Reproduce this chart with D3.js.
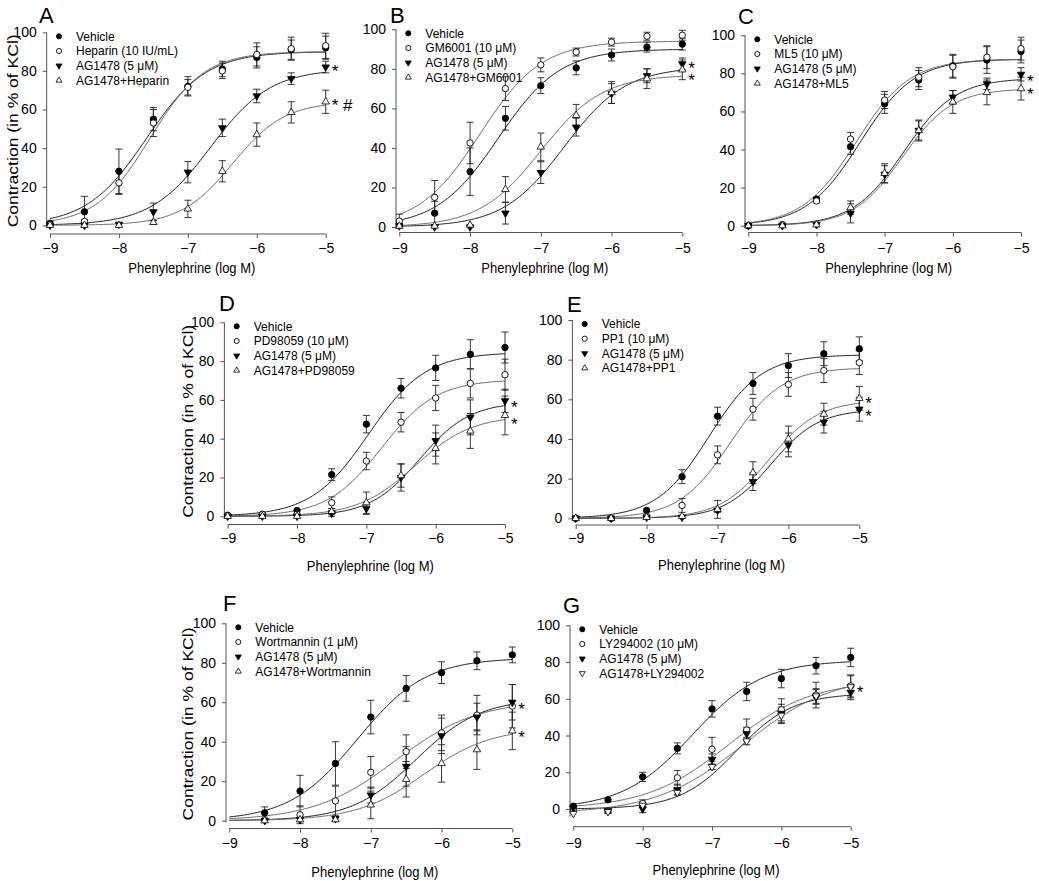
<!DOCTYPE html>
<html><head><meta charset="utf-8">
<script src="https://cdn.jsdelivr.net/npm/d3@7"></script>
<style>
body{margin:0;background:#fff}
svg{display:block}
text{font-family:"Liberation Sans",Arial,Helvetica,sans-serif;fill:#000}
</style>
</head><body>
<svg id="chart" width="1039" height="881"></svg>
<script>
// ---------- shared data ----------
const doses = [-9, -8.5, -8, -7.5, -7, -6.5, -6, -5.5, -5];
const xTicks = [-9, -8, -7, -6, -5];
const yTicks = [0, 20, 40, 60, 80, 100];
const xTitle = "Phenylephrine (log M)";
const yTitle = "Contraction (in % of KCl)";

// fit params: [top, logEC50, hill, bottom]
// ---------- Panel A ----------
const A_labels = ["Vehicle", "Heparin (10 IU/mL)", "AG1478 (5 μM)", "AG1478+Heparin"];
const A_symbols = ["filledCircle", "openCircle", "filledDown", "openUp"];
const A_means = [
  [1, 7, 28, 55, 72, 81, 87, 91, 92],
  [0.5, 2, 22, 53, 71.5, 80, 88.5, 91.5, 93],
  [0, 0, 0.5, 7, 27.5, 50.5, 67, 76, 82],
  [0, 0, 0, 1.5, 8.5, 28, 47, 58.5, 64]
];
const A_sems = [
  [1, 8, 11.5, 6, 5, 4, 5.5, 5, 6],
  [0.5, 1, 6, 7, 4, 4, 6, 6, 6.5],
  [0, 0, 0.5, 4.5, 5.5, 4.5, 3.5, 3, 3],
  [0, 0, 0, 1, 4.5, 5.5, 6, 5.5, 6]
];
const A_fits = [[90, -7.6, 1.0, 0], [90, -7.55, 1.1, 0], [81, -6.67, 1.0, 0], [64, -6.35, 1.15, 0]];
const A_stars = [[82, "*"], [64, "* #"]];

// ---------- Panel B ----------
const B_labels = ["Vehicle", "GM6001 (10 μM)", "AG1478 (5 μM)", "AG1478+GM6001"];
const B_symbols = ["filledCircle", "openCircle", "filledDown", "openUp"];
const B_means = [
  [1, 7, 28, 55, 71.5, 80.5, 87, 91, 92.5],
  [3, 15, 42.5, 70, 82, 88.5, 93.5, 96.5, 97],
  [0.5, 0, 0, 7, 27.5, 50.5, 67.5, 76.5, 82.5],
  [0.5, 0.5, 1, 19, 40.5, 56.5, 68, 75, 79.5]
];
const B_sems = [
  [1, 6, 12, 6, 4, 3.5, 3, 2.5, 3],
  [3.5, 8.5, 10.5, 6, 3.5, 2, 2, 2, 2.5],
  [0.5, 0, 0, 5.5, 5.5, 4.5, 5, 3.5, 3],
  [0.5, 0.5, 0.5, 6.5, 7, 5.5, 5.5, 5, 5]
];
const B_fits = [[90, -7.6, 1.0, 0], [94, -7.86, 1.0, 0], [81, -6.67, 1.0, 0], [77, -7.0, 1.0, 0]];
const B_stars = [[82, "*"], [76, "*"]];

// ---------- Panel C ----------
const C_labels = ["Vehicle", "ML5 (10 μM)", "AG1478 (5 μM)", "AG1478+ML5"];
const C_symbols = ["filledCircle", "openCircle", "filledDown", "openUp"];
const C_means = [
  [0, 0.5, 14, 41.5, 64, 76.5, 84, 87, 91.5],
  [0, 0.5, 13, 45.5, 66, 78, 83.5, 88.5, 93],
  [0, 0, 0.5, 6.5, 27, 50, 67.5, 74.5, 79.5],
  [0, 0, 0.5, 9.5, 27.5, 50, 65, 70, 72]
];
const C_sems = [
  [0.3, 0.5, 1, 4, 5, 5, 6, 7, 6],
  [0.3, 0.5, 1, 3.5, 4.5, 5, 6, 6, 6],
  [0, 0, 0.5, 5, 4.5, 5, 3.5, 3, 3.5],
  [0, 0, 0.5, 3.5, 5, 5.5, 6, 6.5, 6]
];
const C_fits = [[87.5, -7.36, 1.1, 0], [87.5, -7.42, 1.1, 0], [77.5, -6.72, 1.15, 0], [72, -6.74, 1.2, 0]];
const C_stars = [[78, "*"], [71, "*"]];

// ---------- Panel D ----------
const D_labels = ["Vehicle", "PD98059 (10 μM)", "AG1478 (5 μM)", "AG1478+PD98059"];
const D_symbols = ["filledCircle", "openCircle", "filledDown", "openUp"];
const D_means = [
  [0.5, 1, 3, 21.5, 47.5, 66, 76.5, 83.5, 87],
  [0.5, 1, 1, 7, 28.5, 48.5, 61, 68.5, 73],
  [0, 0, 0, 1.5, 4, 20, 39, 51, 59.5],
  [0, 0, 0, 2.5, 7, 21, 35, 44, 52]
];
const D_sems = [
  [0.3, 0.3, 0.5, 3, 4.5, 5, 6.5, 7.5, 8],
  [0.3, 0.3, 0.5, 3, 4.5, 5, 6.5, 7.5, 8],
  [0, 0, 0, 1.5, 3, 7, 8, 9, 6],
  [0, 0, 0, 1.5, 5.5, 6, 8, 9, 10]
];
const D_fits = [[84.5, -6.97, 1.05, 0], [70.5, -6.78, 1.1, 0], [59, -6.23, 1.2, 0], [52, -6.3, 1.05, 0]];
const D_stars = [[58, "*"], [49.5, "*"]];

// ---------- Panel E ----------
const E_labels = ["Vehicle", "PP1 (10 μM)", "AG1478 (5 μM)", "AG1478+PP1"];
const E_symbols = ["filledCircle", "openCircle", "filledDown", "openUp"];
const E_means = [
  [0, 0, 4, 21, 51.5, 68, 77, 83, 85.5],
  [0, 0, 1, 6.5, 32, 55, 67.5, 74.5, 78.5],
  [0, 0, 0.5, 0.5, 4, 18.5, 37, 48.5, 55],
  [0, 0, 0.5, 1, 4.5, 23, 40, 52.5, 60.5]
];
const E_sems = [
  [0.3, 0.3, 0.5, 3.5, 4.5, 5.5, 6, 6, 6],
  [0.3, 0.3, 0.5, 3.5, 4.5, 5.5, 6, 6, 6],
  [0, 0, 0.3, 0.5, 1, 4.5, 6, 5.5, 6],
  [0, 0, 0.3, 0.5, 4.5, 5.5, 6.5, 5.5, 6]
];
const E_fits = [[82.5, -7.12, 1.17, 0], [76, -6.82, 1.2, 0], [55, -6.24, 1.3, 0], [59.5, -6.27, 1.25, 0]];
const E_stars = [[60, "*"], [53.5, "*"]];

// ---------- Panel F ----------
const F_labels = ["Vehicle", "Wortmannin (1 μM)", "AG1478 (5 μM)", "AG1478+Wortmannin"];
const F_symbols = ["filledCircle", "openCircle", "filledDown", "openUp"];
const F_means = [
  [null, 4, 15, 29, 52.5, 67, 75, 81, 84],
  [null, 0.5, 3, 10, 24.5, 35, 44.5, 53.5, 58],
  [null, 0, 0.5, 1, 13, 27.5, 43, 52.5, 60],
  [null, 0, 0.5, 0.5, 8, 21, 29, 36, 45.5]
];
const F_sems = [
  [null, 3, 8, 11, 8.5, 6.5, 5.5, 4.5, 4],
  [null, 0.5, 4.5, 7.5, 8, 8.5, 9, 10, 11],
  [null, 0, 0.5, 1, 4, 10, 9, 7, 9],
  [null, 0, 0.5, 0.5, 7, 9, 9.5, 10, 9.5]
];
const F_fits = [[82.5, -7.19, 0.9, 0], [61, -6.65, 0.75, 0], [62, -6.36, 0.95, 0], [47, -6.25, 0.91, 0]];
const F_stars = [[58.5, "*"], [44, "*"]];

// ---------- Panel G ----------
const G_labels = ["Vehicle", "LY294002 (10 μM)", "AG1478 (5 μM)", "AG1478+LY294002"];
const G_symbols = ["filledCircle", "openCircle", "filledDown", "openDown"];
const G_means = [
  [1.5, 5, 17.5, 33, 54.5, 64, 71, 78, 82.5],
  [0, -1, 3, 17, 32.5, 43, 54, 62, 67],
  [0.5, -1, 0, 10.5, 27, 41, 52, 61, 63.5],
  [-2.5, -1.5, 2, 9, 23, 37, 51, 61.5, 66.5]
];
const G_sems = [
  [0.5, 0.5, 2.5, 3, 4.5, 5, 5, 4.5, 5],
  [0.5, 1, 2, 4, 6.5, 6, 6, 7, 6],
  [0.5, 1, 2, 3, 3, 3.5, 5, 4, 4],
  [0.5, 1, 1, 1, 1.5, 2, 4.5, 4, 6]
];
const G_fits = [[81, -7.28, 0.86, 0], [70, -6.76, 0.73, 0], [63, -6.65, 1.07, 0], [73, -6.54, 0.68, -2.5]];
const G_stars = [[65.5, "*"]];

// ---------- layout (pixel geometry of each panel) ----------
const panels = [
  {id:"A", labels:A_labels, symbols:A_symbols, means:A_means, sems:A_sems, fits:A_fits, stars:A_stars,
   x0:50, x1:325.7, y100:32.3, y0:225.3, axisY:234, tickBase:253, yMin:-1,
   letterX:39, letterY:23, yTitleX:13, titleY:273},
  {id:"B", labels:B_labels, symbols:B_symbols, means:B_means, sems:B_sems, fits:B_fits, stars:B_stars,
   x0:399.3, x1:682.3, y100:29.3, y0:227, axisY:232.5, tickBase:253, yMin:-1,
   letterX:390, letterY:23, yTitleX:null, titleY:273},
  {id:"C", labels:C_labels, symbols:C_symbols, means:C_means, sems:C_sems, fits:C_fits, stars:C_stars,
   x0:748.3, x1:1021, y100:35.3, y0:225.7, axisY:232.5, tickBase:253, yMin:-1,
   letterX:738, letterY:24, yTitleX:null, titleY:273},
  {id:"D", labels:D_labels, symbols:D_symbols, means:D_means, sems:D_sems, fits:D_fits, stars:D_stars,
   x0:227.7, x1:505, y100:322.3, y0:516.3, axisY:524.5, tickBase:543, yMin:-1,
   letterX:219, letterY:311, yTitleX:188.3, titleY:571},
  {id:"E", labels:E_labels, symbols:E_symbols, means:E_means, sems:E_sems, fits:E_fits, stars:E_stars,
   x0:575.7, x1:859.3, y100:320, y0:518.3, axisY:525, tickBase:543, yMin:-1,
   letterX:567, letterY:312, yTitleX:null, titleY:570},
  {id:"F", labels:F_labels, symbols:F_symbols, means:F_means, sems:F_sems, fits:F_fits, stars:F_stars,
   x0:229.3, x1:512.3, y100:623.3, y0:820.7, axisY:828.5, tickBase:848, yMin:-1,
   letterX:223, letterY:611, yTitleX:188.3, titleY:877},
  {id:"G", labels:G_labels, symbols:G_symbols, means:G_means, sems:G_sems, fits:G_fits, stars:G_stars,
   x0:573.3, x1:850.7, y100:625.3, y0:809, axisY:826.7, tickBase:848, yMin:-4,
   letterX:563, letterY:613, yTitleX:null, titleY:875}
];

const svg = d3.select("#chart");
const INK = "#000";
const AXIS = "#555";
const TICK_FS = 14;

function logistic(f, x) {
  const [top, ec, h, bottom] = f;
  return bottom + (top - bottom) / (1 + Math.pow(10, h * (ec - x)));
}

function drawSymbol(g, type, cx, cy, scale) {
  const s = scale || 1;
  if (type === "filledCircle" || type === "openCircle") {
    g.append("circle").attr("cx", cx).attr("cy", cy).attr("r", 3.2 * s)
      .attr("fill", type === "filledCircle" ? INK : "#fff")
      .attr("stroke", INK).attr("stroke-width", 0.9);
  } else {
    const down = type === "filledDown" || type === "openDown";
    const filled = type === "filledDown";
    g.append("path")
      .attr("d", d3.symbol().type(d3.symbolTriangle).size(24 * s * s)())
      .attr("transform", `translate(${cx},${cy}) rotate(${down ? 180 : 0})`)
      .attr("fill", filled ? INK : "#fff")
      .attr("stroke", INK).attr("stroke-width", 0.8);
  }
}

panels.forEach(p => {
  const g = svg.append("g").attr("class", "panel-" + p.id);
  const x = d3.scaleLinear().domain([-9, -5]).range([p.x0, p.x1]);
  const y = d3.scaleLinear().domain([0, 100]).range([p.y0, p.y100]);
  const yAxisX = p.x0 - 3.3;

  // panel letter
  g.append("text").attr("x", p.letterX).attr("y", p.letterY)
    .attr("font-size", 22).text(p.id);

  // y axis (offset slightly left of x = -9)
  const yAxis = d3.axisLeft(y).tickValues(yTicks).tickSize(4).tickPadding(6).tickFormat(d3.format("d"));
  const ya = g.append("g").attr("transform", `translate(${yAxisX},0)`).call(yAxis);
  ya.select(".domain").remove();
  ya.append("line").attr("x1", 0).attr("x2", 0).attr("y1", y(100)).attr("y2", y(p.yMin))
    .attr("stroke", AXIS).attr("stroke-width", 1);
  ya.selectAll(".tick line").attr("stroke", AXIS);
  ya.selectAll(".tick text").attr("font-size", TICK_FS).attr("fill", INK)
    .style("font-family", '"Liberation Sans",Arial,sans-serif');

  // x axis (offset below zero)
  const pad = p.tickBase - p.axisY - 4 - 0.71 * TICK_FS;
  const xAxis = d3.axisBottom(x).tickValues(xTicks).tickSize(4).tickPadding(pad).tickFormat(d3.format("d"));
  const xa = g.append("g").attr("transform", `translate(0,${p.axisY})`).call(xAxis);
  xa.select(".domain").remove();
  xa.append("line").attr("x1", p.x0).attr("x2", p.x1).attr("y1", 0).attr("y2", 0)
    .attr("stroke", AXIS).attr("stroke-width", 1);
  xa.selectAll(".tick line").attr("stroke", AXIS);
  xa.selectAll(".tick text").attr("font-size", TICK_FS).attr("fill", INK)
    .style("font-family", '"Liberation Sans",Arial,sans-serif');

  // axis titles
  g.append("text").attr("x", (p.x0 + p.x1) / 2 + 4).attr("y", p.titleY)
    .attr("text-anchor", "middle").attr("font-size", 15)
    .attr("textLength", 127).attr("lengthAdjust", "spacingAndGlyphs")
    .text(xTitle);
  if (p.yTitleX !== null) {
    const cy = (p.y100 + p.y0) / 2 + 2;
    g.append("text")
      .attr("transform", `translate(${p.yTitleX + 5},${cy}) rotate(-90)`)
      .attr("text-anchor", "middle").attr("font-size", 15)
      .attr("textLength", 193).attr("lengthAdjust", "spacingAndGlyphs")
      .text(yTitle);
  }

  // fitted curves (filled-symbol series dark, open-symbol series grey)
  const xs = d3.range(0, 201).map(i => -9 + i * 4 / 200);
  p.fits.forEach((f, si) => {
    const pts = xs.map(d => ({d, v: logistic(f, d)}));
    const open = p.symbols[si].startsWith("open");
    g.append("path")
      .attr("d", d3.line().x(q => x(q.d)).y(q => y(q.v))(pts))
      .attr("fill", "none").attr("stroke", open ? "#6a6a6a" : "#1a1a1a").attr("stroke-width", 1);
  });

  // error bars
  p.means.forEach((ms, si) => {
    ms.forEach((m, i) => {
      const e = p.sems[si][i];
      if (m === null || e === null || e < 0.8) return;
      const cx = x(doses[i]);
      g.append("line").attr("x1", cx).attr("x2", cx).attr("y1", y(m - e)).attr("y2", y(m + e))
        .attr("stroke", "#222").attr("stroke-width", 0.9);
      [m - e, m + e].forEach(v => {
        g.append("line").attr("x1", cx - 3.5).attr("x2", cx + 3.5).attr("y1", y(v)).attr("y2", y(v))
          .attr("stroke", "#222").attr("stroke-width", 0.9);
      });
    });
  });

  // markers
  p.means.forEach((ms, si) => {
    ms.forEach((m, i) => {
      if (m === null) return;
      drawSymbol(g, p.symbols[si], x(doses[i]), y(m), 1);
    });
  });

  // significance marks: one text element per panel, one tspan per mark
  const st = g.append("text").attr("font-size", 17);
  p.stars.forEach(s => {
    st.append("tspan").attr("x", p.x1 + 6).attr("y", y(s[0]) + 9.5).text(s[1]);
  });

  // legend
  p.labels.forEach((lab, i) => {
    const ly = p.y100 + 4 + i * 14.7;
    drawSymbol(g, p.symbols[i], p.x0 + 9, ly, 0.8);
    g.append("text").attr("x", p.x0 + 26).attr("y", ly + 4.3)
      .attr("font-size", 12).text(lab);
  });
});
</script>
</body></html>
